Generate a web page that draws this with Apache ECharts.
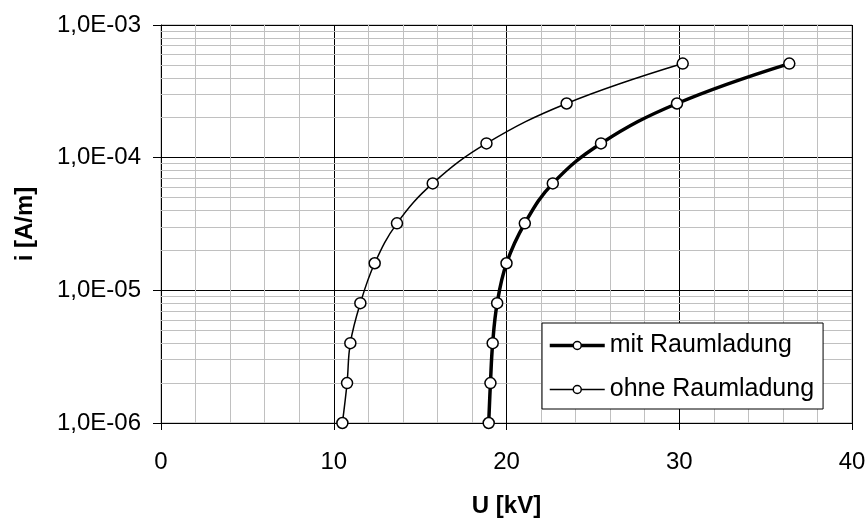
<!DOCTYPE html>
<html>
<head>
<meta charset="utf-8">
<script src="https://cdn.jsdelivr.net/npm/echarts@6/dist/echarts.min.js"></script>
<style>
    html, body {margin: 0; padding: 0; background: #fff;}
    #chart {width: 868px; height: 519px;}
</style>
</head>
<body>
<div id="chart"></div>
<script>
// Strom-Spannungs-Kennlinie
var currents = [1e-6, 2e-6, 4e-6, 8e-6, 1.6e-5, 3.2e-5, 6.4e-5, 1.28e-4, 2.56e-4, 5.12e-4];
var voltMit = [18.97, 19.07, 19.2, 19.46, 20.0, 21.06, 22.68, 25.47, 29.87, 36.37];
var voltOhne = [10.5, 10.77, 10.96, 11.54, 12.37, 13.66, 15.73, 18.84, 23.48, 30.2];
var minorLevels = [2, 3, 4, 5, 6, 7, 8, 9];
var decades = [1e-6, 1e-5, 1e-4];
var xRange = [0, 40];

function pairs(xs, ys) {
    var data = [];
    for (var i = 0; i < xs.length; i++) {
        data.push([xs[i], ys[i]]);
    }
    return data;
}

// horizontale Hilfslinien je Dekade (2..9)
function minorLines() {
    var data = [];
    decades.forEach(function (d) {
        minorLevels.forEach(function (m) {
            data.push({coords: [[xRange[0], d * m], [xRange[1], d * m]]});
        });
    });
    return data;
}

function fmtExp(v) {
    var e = Math.round(Math.log10(v));
    var s = e < 0 ? '-' : '+';
    return '1,0E' + s + String(Math.abs(e)).padStart(2, '0');
}

var myChart = echarts.init(document.getElementById('chart'));
var font = 'Liberation Sans, Arial, sans-serif';
var option = {
    backgroundColor: '#fff',
    animation: false,
    grid: {
        left: 161, right: 16, top: 25, bottom: 96, show: true,
        borderColor: '#a0a0a0', borderWidth: 1,
        outerBoundsMode: 'none', containLabel: false
    },
    legend: {
        orient: 'vertical', left: 542, top: 323,
        backgroundColor: '#fff', borderColor: '#000', borderWidth: 1,
        padding: [10, 9, 7, 6], itemGap: 19, itemWidth: 55, itemHeight: 10,
        textStyle: {color: '#000', fontSize: 25, fontFamily: font},
        data: [
            {name: 'mit Raumladung', lineStyle: {width: 3.5, color: '#000'}, itemStyle: {color: '#fff', borderColor: '#000', borderWidth: 1.5}},
            {name: 'ohne Raumladung', lineStyle: {width: 1.5, color: '#000'}, itemStyle: {color: '#fff', borderColor: '#000', borderWidth: 1.5}}
        ]
    },
    xAxis: {
        type: 'value', min: xRange[0], max: xRange[1], interval: 10,
        name: 'U [kV]', nameLocation: 'middle', nameGap: 71,
        nameTextStyle: {color: '#000', fontSize: 24, fontWeight: 'bold', fontFamily: font},
        axisLine: {show: true, lineStyle: {color: '#000', width: 1}},
        axisTick: {show: true, length: 7, lineStyle: {color: '#000'}},
        axisLabel: {color: '#000', fontSize: 24, fontFamily: font, margin: 27},
        splitLine: {show: true, lineStyle: {color: '#000', width: 1}},
        minorTick: {show: false, splitNumber: 5},
        minorSplitLine: {show: true, lineStyle: {color: '#c0c0c0', width: 1}}
    },
    yAxis: {
        type: 'log', logBase: 10, min: 1e-6, max: 1e-3,
        name: 'i [A/m]', nameLocation: 'middle', nameGap: 124, nameRotate: 90,
        nameTextStyle: {color: '#000', fontSize: 24, fontWeight: 'bold', fontFamily: font},
        axisLine: {show: true, lineStyle: {color: '#000', width: 1}},
        axisTick: {show: true, length: 8, lineStyle: {color: '#000'}},
        axisLabel: {color: '#000', fontSize: 24, fontFamily: font, margin: 20, formatter: fmtExp},
        splitLine: {show: true, lineStyle: {color: '#000', width: 1}}
    },
    series: [
        {
            name: 'minor', type: 'lines', coordinateSystem: 'cartesian2d',
            silent: true, z: 1, animation: false,
            lineStyle: {color: '#c0c0c0', width: 1, opacity: 1},
            data: minorLines()
        },
        {
            name: 'mit Raumladung', type: 'line', smooth: 0.4, z: 3,
            symbol: 'circle', symbolSize: 11,
            lineStyle: {color: '#000', width: 3.5},
            itemStyle: {color: '#fff', borderColor: '#000', borderWidth: 1.5},
            data: pairs(voltMit, currents)
        },
        {
            name: 'ohne Raumladung', type: 'line', smooth: 0.4, z: 3,
            symbol: 'circle', symbolSize: 11,
            lineStyle: {color: '#000', width: 1.5},
            itemStyle: {color: '#fff', borderColor: '#000', borderWidth: 1.5},
            data: pairs(voltOhne, currents)
        }
    ]
};
myChart.setOption(option);
</script>
</body>
</html>
